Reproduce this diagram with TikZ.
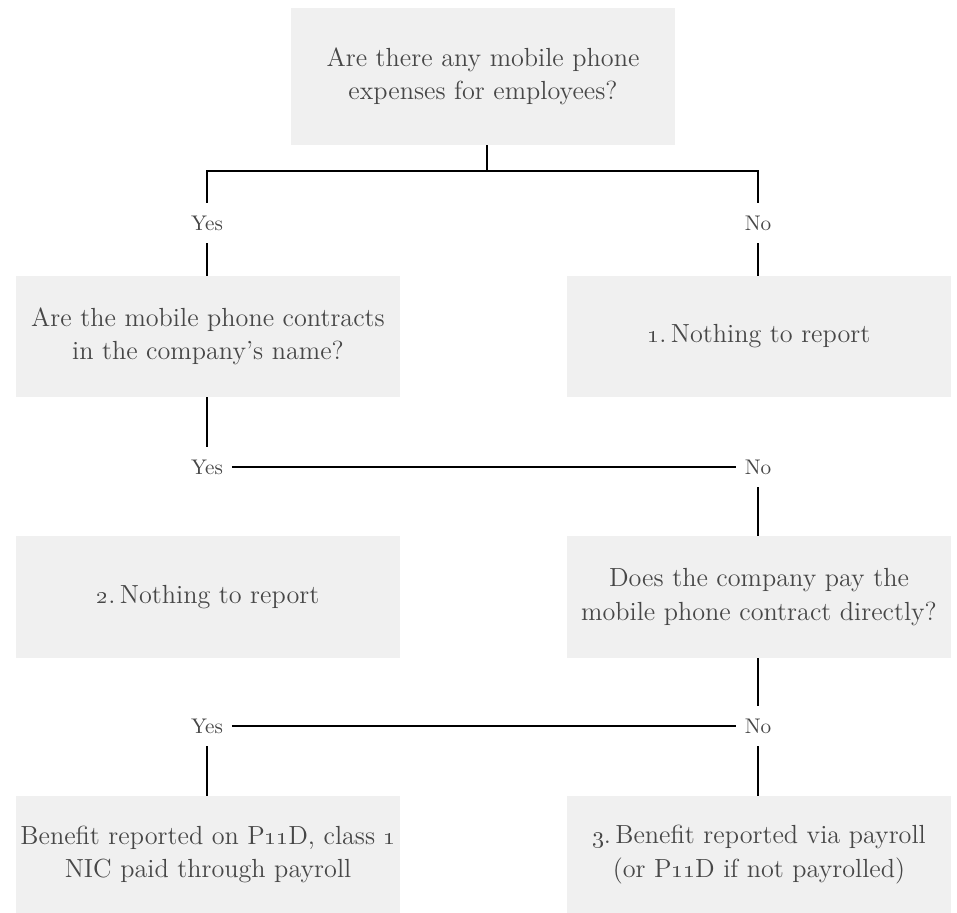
\documentclass[tikz,border=0pt]{standalone}
\definecolor{boxgray}{HTML}{F0F0F0}
\definecolor{txtgray}{HTML}{474747}
\tikzset{
  qbox/.style={fill=boxgray, draw=none, minimum width=192pt, inner sep=0pt,
    align=center, text=txtgray, font=\fontsize{13.1}{16.6}\selectfont},
  lbl/.style={inner xsep=4.2pt, inner ysep=0pt, minimum height=20pt,
    text=txtgray, font=\fontsize{10.6}{12}\selectfont},
  conn/.style={line width=1.4pt, black, line join=miter}
}
\begin{document}
\begin{tikzpicture}[x=0.5pt, y=-0.5pt]
\useasboundingbox (0,0) rectangle (957,913);
% boxes
\node[qbox, minimum height=68.5pt] (q1) at (483,76.5) {Are there any mobile phone\\expenses for employees?};
\node[qbox, minimum height=60.5pt] (q2) at (208,336.5) {Are the mobile phone contracts\\in the company's name?};
\node[qbox, minimum height=60.5pt] (r1) at (759,336.5) {\oldstylenums{1}.\,Nothing to report};
\node[qbox, minimum height=61pt] (r2) at (208,597) {\oldstylenums{2}.\,Nothing to report};
\node[qbox, minimum height=61pt] (q3) at (759,597) {Does the company pay the\\mobile phone contract directly?};
\node[qbox, minimum height=58.5pt] (r4) at (208,854.5) {Benefit reported on P\oldstylenums{11}D, class \oldstylenums{1}\\NIC paid through payroll};
\node[qbox, minimum height=58.5pt] (r3) at (759,854.5) {\oldstylenums{3}.\,Benefit reported via payroll\\(or P\oldstylenums{11}D if not payrolled)};
% labels
\node[lbl] (y1) at (207,223) {Yes};
\node[lbl] (n1) at (758,223) {No};
\node[lbl] (y2) at (207,467) {Yes};
\node[lbl] (n2) at (758,467) {No};
\node[lbl] (y3) at (207,726) {Yes};
\node[lbl] (n3) at (758,726) {No};
\coordinate (t) at (487,171);
% connectors
\draw[conn] (q1.south -| t) -- (t);
\draw[conn] (y1.north) -- (y1.north |- t) -- (n1.north |- t) -- (n1.north);
\draw[conn] (y1.south) -- (q2.north -| y1.south);
\draw[conn] (n1.south) -- (r1.north -| n1.south);
\draw[conn] (q2.south -| y2.north) -- (y2.north);
\draw[conn] (y2.east) -- (n2.west);
\draw[conn] (n2.south) -- (q3.north -| n2.south);
\draw[conn] (q3.south -| n3.north) -- (n3.north);
\draw[conn] (y3.east) -- (n3.west);
\draw[conn] (y3.south) -- (r4.north -| y3.south);
\draw[conn] (n3.south) -- (r3.north -| n3.south);
\end{tikzpicture}
\end{document}
